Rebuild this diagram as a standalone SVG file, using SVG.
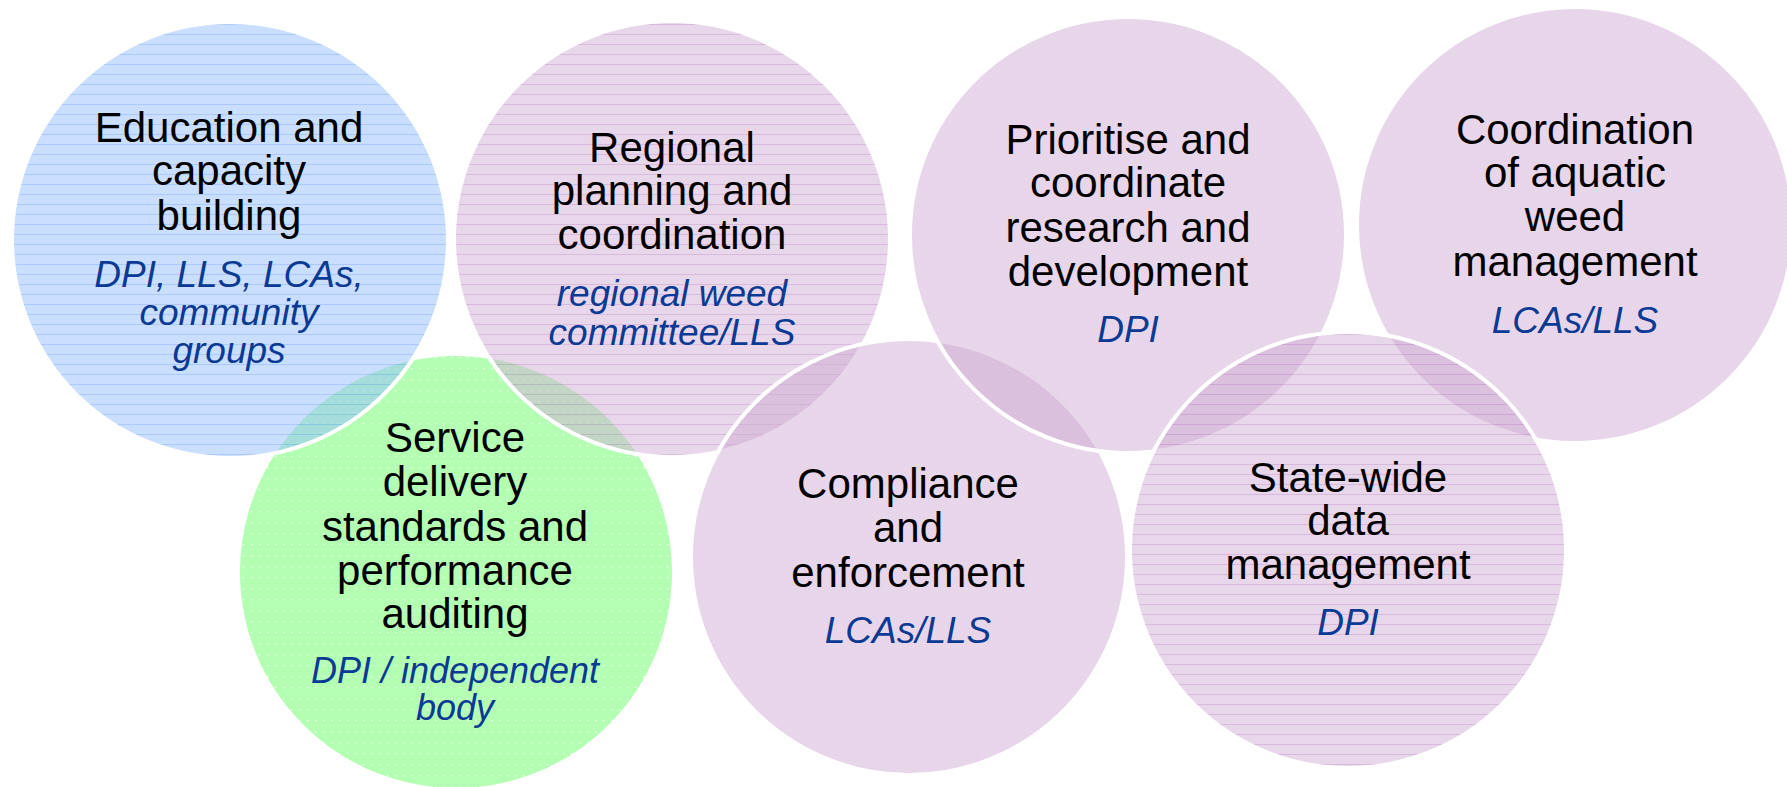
<svg xmlns="http://www.w3.org/2000/svg" width="1787" height="787" viewBox="0 0 1787 787">
<defs>
<pattern id="blueHatch" width="10" height="10" patternUnits="userSpaceOnUse">
<rect width="10" height="10" fill="#95bdff"/>
<rect y="4" width="10" height="1" fill="#5a93ff"/>
</pattern>
<pattern id="pinkHatch" width="10" height="10" patternUnits="userSpaceOnUse">
<rect width="10" height="10" fill="#d1add5"/>
<rect y="4" width="10" height="1" fill="#b474be"/>
</pattern>
<pattern id="pinkPlain" width="4" height="4" patternUnits="userSpaceOnUse">
<rect width="4" height="4" fill="#d1add5"/>
<rect width="1" height="1" fill="#c9a2cf"/>
<rect x="2" y="2" width="1" height="1" fill="#c9a2cf"/>
</pattern>
<pattern id="greenDots" width="8" height="11" patternUnits="userSpaceOnUse">
<rect width="8" height="11" fill="#69fd69"/>
<rect x="3" y="5" width="1.2" height="1.2" fill="#ffffff"/>
</pattern>
<style>
.c{stroke:#ffffff;stroke-width:4;fill-opacity:0.5}
.t{font-family:"Liberation Sans",Arial,sans-serif;font-size:42px;fill:#000000;text-anchor:middle}
.s{font-family:"Liberation Sans",Arial,sans-serif;font-size:37px;font-style:italic;fill:#0a3a94;text-anchor:middle}
.s2{font-size:36px}
</style>
</defs>
<rect width="1787" height="787" fill="#ffffff"/>
<g id="node-service">
<circle class="c" cx="456" cy="572" r="218" fill="url(#greenDots)"/>
<text class="t" x="455" y="452">Service</text>
<text class="t" x="455" y="496">delivery</text>
<text class="t" x="455" y="541">standards and</text>
<text class="t" x="455" y="585">performance</text>
<text class="t" x="455" y="628">auditing</text>
<text class="s s2" x="455" y="683">DPI / independent</text>
<text class="s s2" x="455" y="720">body</text>
</g>
<g id="node-education">
<circle class="c" cx="230" cy="240" r="218" fill="url(#blueHatch)"/>
<text class="t" x="229" y="142">Education and</text>
<text class="t" x="229" y="185">capacity</text>
<text class="t" x="229" y="230">building</text>
<text class="s" x="229" y="287">DPI, LLS, LCAs,</text>
<text class="s" x="229" y="325">community</text>
<text class="s" x="229" y="363">groups</text>
</g>
<g id="node-regional">
<circle class="c" cx="672" cy="239" r="218" fill="url(#pinkHatch)"/>
<text class="t" x="672" y="162">Regional</text>
<text class="t" x="672" y="205">planning and</text>
<text class="t" x="672" y="249">coordination</text>
<text class="s" x="672" y="306">regional weed</text>
<text class="s" x="672" y="345">committee/LLS</text>
</g>
<g id="node-compliance">
<circle class="c" cx="909" cy="557" r="218" fill="url(#pinkPlain)"/>
<text class="t" x="908" y="498">Compliance</text>
<text class="t" x="908" y="542">and</text>
<text class="t" x="908" y="587">enforcement</text>
<text class="s" x="908" y="643">LCAs/LLS</text>
</g>
<g id="node-prioritise">
<circle class="c" cx="1128" cy="235" r="218" fill="url(#pinkPlain)"/>
<text class="t" x="1128" y="154">Prioritise and</text>
<text class="t" x="1128" y="197">coordinate</text>
<text class="t" x="1128" y="242">research and</text>
<text class="t" x="1128" y="286">development</text>
<text class="s" x="1128" y="342">DPI</text>
</g>
<g id="node-aquatic">
<circle class="c" cx="1575" cy="225" r="218" fill="url(#pinkPlain)"/>
<text class="t" x="1575" y="144">Coordination</text>
<text class="t" x="1575" y="187">of aquatic</text>
<text class="t" x="1575" y="231">weed</text>
<text class="t" x="1575" y="276">management</text>
<text class="s" x="1575" y="333">LCAs/LLS</text>
</g>
<g id="node-statewide">
<circle class="c" cx="1348" cy="550" r="218" fill="url(#pinkHatch)"/>
<text class="t" x="1348" y="492">State-wide</text>
<text class="t" x="1348" y="535">data</text>
<text class="t" x="1348" y="579">management</text>
<text class="s" x="1348" y="635">DPI</text>
</g>
<g id="connectors"/>
</svg>
